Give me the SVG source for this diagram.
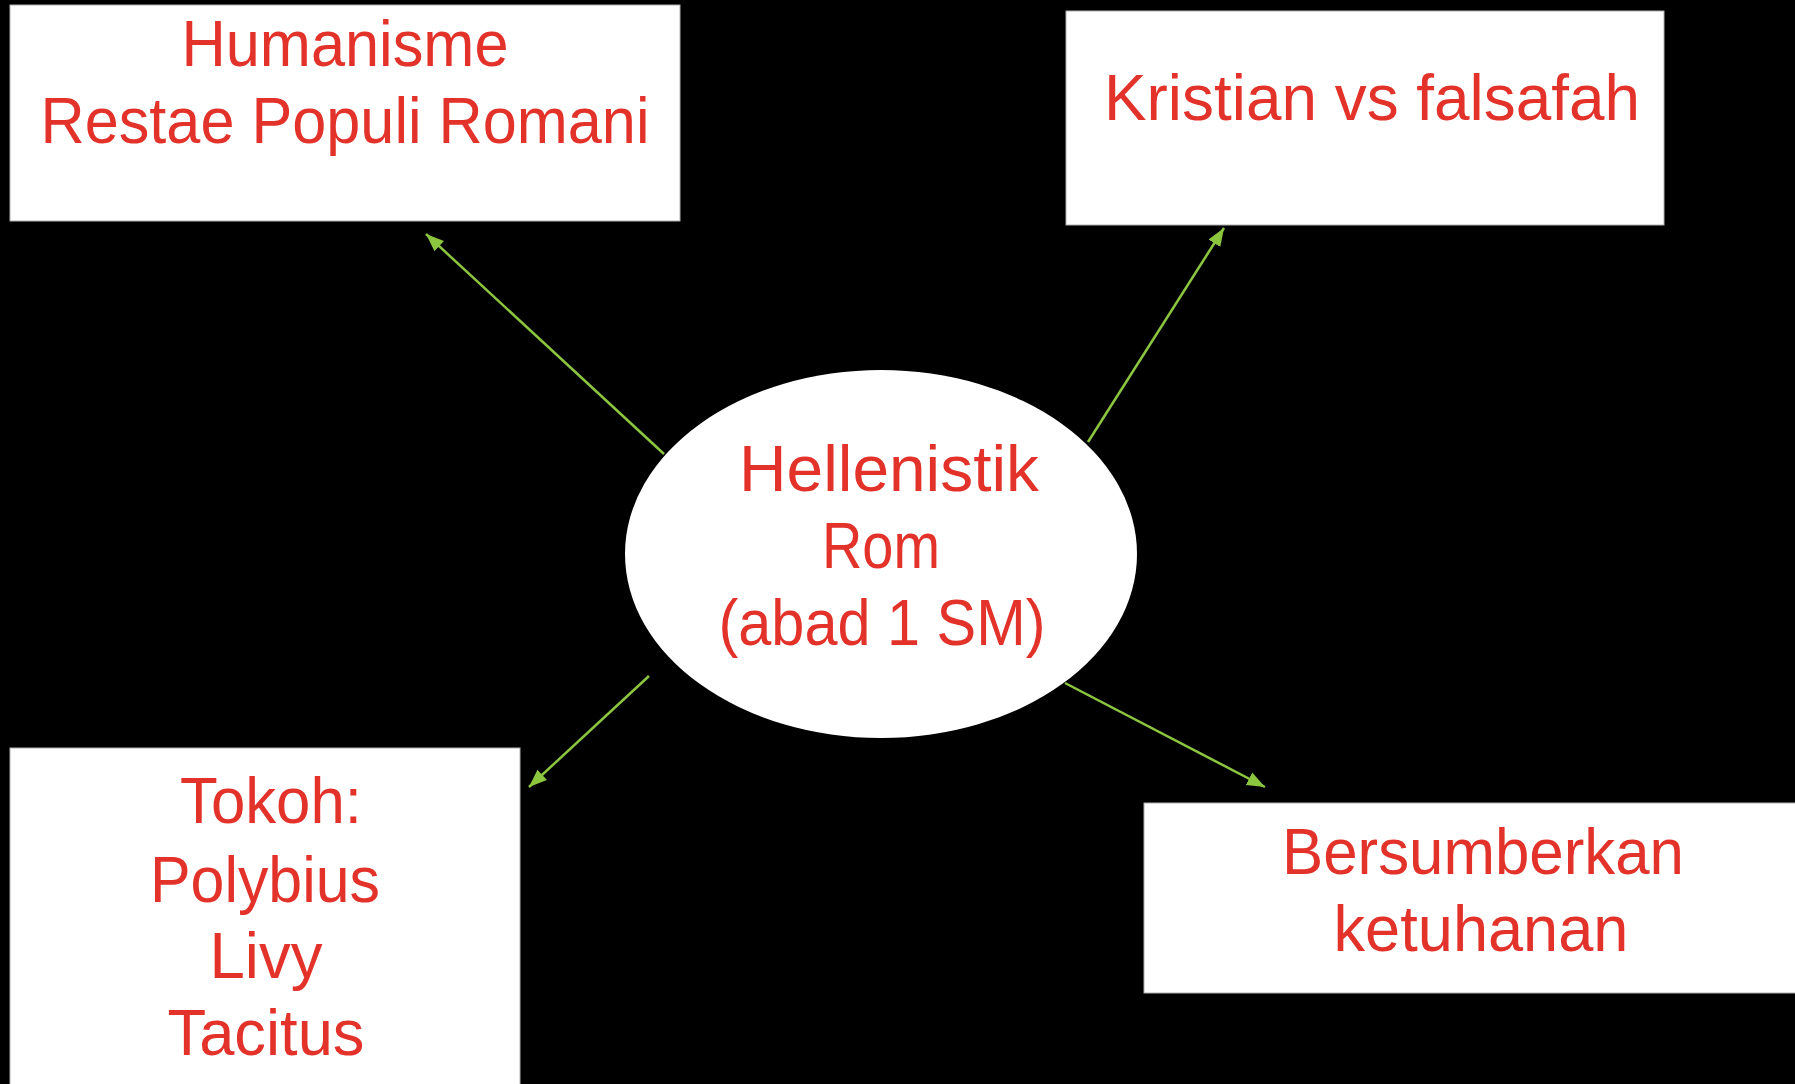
<svg xmlns="http://www.w3.org/2000/svg" width="1795" height="1084" viewBox="0 0 1795 1084">
<style>
.box{fill:#ffffff;stroke:#b0b0b0;stroke-width:1}
.ell{fill:#ffffff}
.t{font-family:"Liberation Sans",Arial,sans-serif;font-size:65px;fill:#E2322A;text-anchor:middle}
.con{stroke:#8CC63F;stroke-width:2.5;fill:none;marker-end:url(#ah)}
</style>
<defs>
<marker id="ah" markerUnits="userSpaceOnUse" markerWidth="19" markerHeight="16" refX="18" refY="8" orient="auto">
<path d="M0,1 L18,8 L0,15 z" fill="#8CC63F"/>
</marker>
</defs>
<rect x="0" y="0" width="1795" height="1084" fill="#000000"/>
<g id="connectors">
<line class="con" x1="664" y1="454" x2="426" y2="234"/>
<line class="con" x1="1088" y1="442" x2="1224" y2="228"/>
<line class="con" x1="649" y1="676" x2="529" y2="787"/>
<line class="con" x1="1065" y1="683" x2="1265" y2="787"/>
</g>
<g id="node-humanisme">
<rect class="box" x="10" y="5" width="670" height="216"/>
<text class="t" x="345" y="66" textLength="327" lengthAdjust="spacingAndGlyphs">Humanisme</text>
<text class="t" x="345" y="143" textLength="609" lengthAdjust="spacingAndGlyphs">Restae Populi Romani</text>
</g>
<g id="node-kristian">
<rect class="box" x="1066" y="11" width="598" height="214"/>
<text class="t" x="1372" y="120" textLength="536" lengthAdjust="spacingAndGlyphs">Kristian vs falsafah</text>
</g>
<g id="node-hellenistik">
<ellipse class="ell" cx="881" cy="554" rx="256" ry="184"/>
<text class="t" x="889" y="491" textLength="300" lengthAdjust="spacingAndGlyphs">Hellenistik</text>
<text class="t" x="881" y="568" textLength="118" lengthAdjust="spacingAndGlyphs">Rom</text>
<text class="t" x="882" y="645" textLength="327" lengthAdjust="spacingAndGlyphs">(abad 1 SM)</text>
</g>
<g id="node-tokoh">
<rect class="box" x="10" y="748" width="510" height="345"/>
<text class="t" x="271" y="823" textLength="182" lengthAdjust="spacingAndGlyphs">Tokoh:</text>
<text class="t" x="265" y="902" textLength="230" lengthAdjust="spacingAndGlyphs">Polybius</text>
<text class="t" x="266" y="978" textLength="113" lengthAdjust="spacingAndGlyphs">Livy</text>
<text class="t" x="266" y="1055" textLength="197" lengthAdjust="spacingAndGlyphs">Tacitus</text>
</g>
<g id="node-bersumberkan">
<rect class="box" x="1144" y="803" width="660" height="190"/>
<text class="t" x="1483" y="874" textLength="402" lengthAdjust="spacingAndGlyphs">Bersumberkan</text>
<text class="t" x="1481" y="951" textLength="295" lengthAdjust="spacingAndGlyphs">ketuhanan</text>
</g>
</svg>
